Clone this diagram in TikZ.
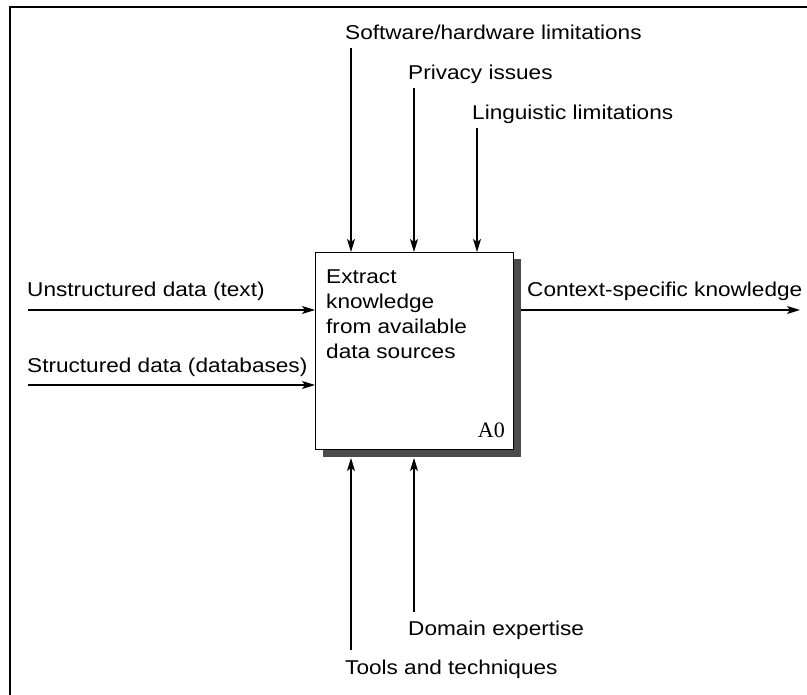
\documentclass[tikz,border=0pt]{standalone}
\usepackage{fontspec}
\setmainfont[FakeStretch=1.13]{Liberation Sans}
\newfontfamily\serifA{Liberation Serif}
\usetikzlibrary{arrows.meta}
\begin{document}
\begin{tikzpicture}[x=1pt,y=-1pt,
  lbl/.style={anchor=base west, inner sep=0pt, font=\fontsize{20}{25}\selectfont},
  flow/.style={-{Stealth[length=13pt,width=8pt,inset=3pt]}, line width=1.3pt},
  shadowbox/.style={fill=black!70, draw=none}]
\useasboundingbox (0,0) rectangle (807,695);
\draw[line width=2.2pt] (10,695) -- (10,7) -- (807,7);
% shadow and box
\fill[shadowbox] (323,259) rectangle (521,457);
\node[draw, fill=white, line width=1.2pt, inner sep=0pt, minimum width=198pt, minimum height=197pt, anchor=north west] (box) at (315,252) {};
\node[lbl, align=left] (txt) at (326,359) {Extract\\knowledge\\from available\\data sources};
\node[anchor=base east, inner sep=0pt, font=\serifA\fontsize{22}{22}\selectfont] (a0) at (505,438) {A0};
% labels
\node[lbl] (sw) at (345,40) {Software/hardware limitations};
\node[lbl] (pi) at (408,80) {Privacy issues};
\node[lbl] (li) at (472,120) {Linguistic limitations};
\node[lbl] (un) at (27,297) {Unstructured data (text)};
\node[lbl] (st) at (27,373) {Structured data (databases)};
\node[lbl] (ck) at (527,297) {Context-specific knowledge};
\node[lbl] (de) at (408,635) {Domain expertise};
\node[lbl] (tt) at (345,674) {Tools and techniques};
% connector end points
\coordinate (t1) at (351,48);
\coordinate (t2) at (414,88);
\coordinate (t3) at (477,128);
\coordinate (l1) at (28,310);
\coordinate (l2) at (28,385);
\coordinate (o1) at (521,310);
\coordinate (o2) at (800,310);
\coordinate (b1) at (351,650);
\coordinate (b2) at (414,612);
\coordinate (sh) at (0,458);
% connectors
\draw[flow] (t1) -- (t1 |- box.north);
\draw[flow] (t2) -- (t2 |- box.north);
\draw[flow] (t3) -- (t3 |- box.north);
\draw[flow] (l1) -- (l1 -| box.west);
\draw[flow] (l2) -- (l2 -| box.west);
\draw[flow] (o1) -- (o2);
\draw[flow] (b1) -- (b1 |- sh);
\draw[flow] (b2) -- (b2 |- sh);
\end{tikzpicture}
\end{document}
